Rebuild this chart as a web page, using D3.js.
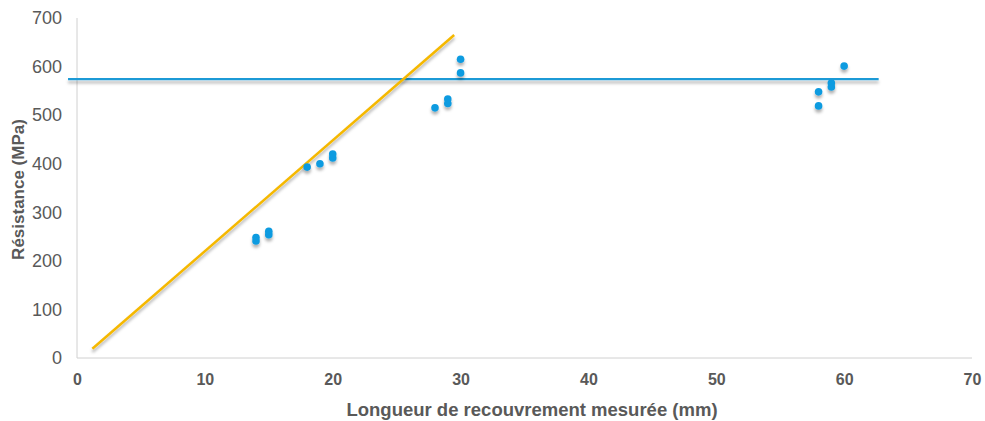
<!DOCTYPE html>
<html><head><meta charset="utf-8">
<script src="https://cdn.jsdelivr.net/npm/d3@7"></script>
<style>body{margin:0;background:#fff}</style>
</head><body>
<svg id="c" width="985" height="421"></svg>
<script>
// data
const pointX = [14, 14, 15, 15, 18, 19, 20, 20, 28, 29, 29, 30, 30, 58, 58, 59, 59, 60];
const pointY = [241, 248, 254, 261, 393, 400, 412, 420, 515, 524, 533, 587, 615, 519, 548, 558, 566, 601];
const hLineX = [-0.7, 62.7];
const hLineY = [574, 574];
const trendX = [1.2, 29.5];
const trendY = [19, 665];
const xTicks = [0, 10, 20, 30, 40, 50, 60, 70];
const yTicks = [0, 100, 200, 300, 400, 500, 600, 700];
const xTitle = "Longueur de recouvrement mesurée (mm)";
const yTitle = "Résistance (MPa)";

const svg = d3.select("#c");
const m = {l: 77, r: 972, t: 18, b: 358};
const x = d3.scaleLinear().domain([0, 70]).range([m.l, m.r]);
const y = d3.scaleLinear().domain([0, 700]).range([m.b, m.t]);

const defs = svg.append("defs");
const f = defs.append("filter").attr("id", "sh").attr("filterUnits", "userSpaceOnUse")
  .attr("x", 0).attr("y", 0).attr("width", 985).attr("height", 421);
f.append("feDropShadow").attr("dx", 0).attr("dy", 3).attr("stdDeviation", 1.6).attr("flood-color", "#000").attr("flood-opacity", 0.3);

// axes lines
svg.append("line").attr("x1", m.l).attr("x2", m.l).attr("y1", m.t).attr("y2", m.b).attr("stroke", "#d0d0d0").attr("stroke-width", 1);
svg.append("line").attr("x1", m.l).attr("x2", m.r).attr("y1", m.b).attr("y2", m.b).attr("stroke", "#d0d0d0").attr("stroke-width", 1);

const font = "Liberation Sans, Arial, sans-serif";
// y ticks
const ya = svg.append("g").attr("transform", `translate(${m.l},0)`)
  .call(d3.axisLeft(y).tickValues(yTicks).tickSize(0).tickPadding(15));
ya.select(".domain").remove();
ya.selectAll("text").attr("font-family", font).attr("font-size", 18).attr("fill", "#595959");

// x ticks
const xa = svg.append("g").attr("transform", `translate(0,${m.b})`)
  .call(d3.axisBottom(x).tickValues(xTicks).tickSize(0).tickPadding(16));
xa.select(".domain").remove();
xa.selectAll("text").attr("font-family", font).attr("font-weight", "bold")
  .attr("font-size", 16).attr("fill", "#595959");

// titles
svg.append("text").attr("x", 532).attr("y", 416).attr("text-anchor", "middle")
  .attr("font-family", font).attr("font-weight", "bold").attr("font-size", 18.5)
  .attr("fill", "#595959").text(xTitle);
svg.append("text").attr("transform", `translate(24,${(112+267)/2}) rotate(-90)`).attr("text-anchor", "middle")
  .attr("font-family", font).attr("font-weight", "bold").attr("font-size", 17)
  .attr("fill", "#595959").text(yTitle);

// lines
const line = d3.line().x(d => x(d[0])).y(d => y(d[1]));
svg.append("path").datum(d3.zip(hLineX, hLineY)).attr("d", line).attr("stroke", "#1a9ad6").attr("stroke-width", 2.2).attr("fill", "none").attr("filter", "url(#sh)");
svg.append("path").datum(d3.zip(trendX, trendY)).attr("d", line).attr("stroke", "#f5b800").attr("stroke-width", 2.5).attr("fill", "none").attr("filter", "url(#sh)");

// points
svg.append("g").attr("filter", "url(#sh)").selectAll("circle").data(d3.zip(pointX, pointY)).join("circle")
  .attr("cx", d => x(d[0])).attr("cy", d => y(d[1])).attr("r", 3.8).attr("fill", "#0f9be0");
</script>
</body></html>
